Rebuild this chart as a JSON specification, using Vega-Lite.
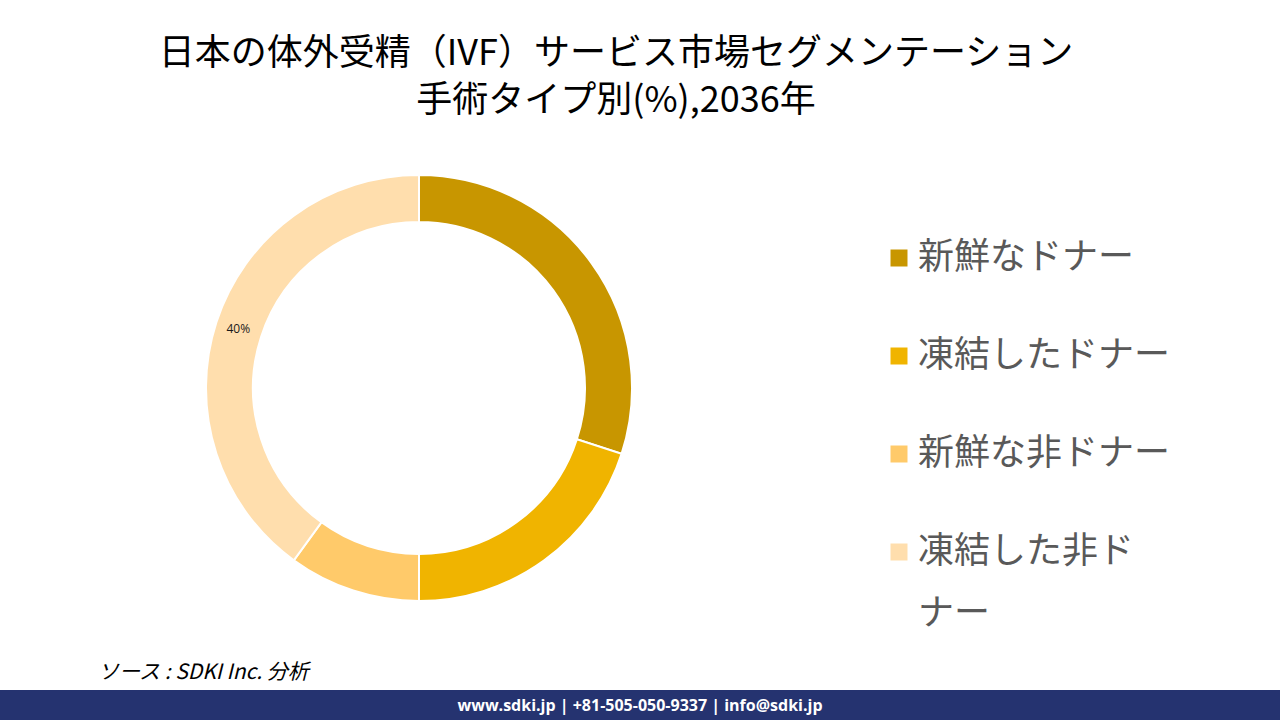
{
  "$schema": "https://vega.github.io/schema/vega-lite/v6.json",
  "padding": {"left": 0, "top": 36, "right": 0, "bottom": 0},
  "background": "white",
  "spacing": 17,
  "config": {
    "view": {"stroke": null},
    "style": {"guide-label": {"lineHeight": 62}}
  },
  "title": {
    "text": ["日本の体外受精（IVF）サービス市場セグメンテーション", "手術タイプ別(%),2036年"],
    "font": "Noto Sans CJK JP",
    "fontSize": 36,
    "fontWeight": "normal",
    "color": "#000000",
    "lineHeight": 47,
    "anchor": "middle",
    "dx": -24,
    "offset": 11
  },
  "vconcat": [
    {
      "width": 838,
      "height": 514,
      "data": {
        "values": [
          {"type": "新鮮なドナー", "share": 0.3},
          {"type": "凍結したドナー", "share": 0.2},
          {"type": "新鮮な非ドナー", "share": 0.1},
          {"type": "凍結した非ドナー", "share": 0.4}
        ]
      },
      "transform": [{"window": [{"op": "row_number", "as": "idx"}]}],
      "layer": [
        {
          "mark": {"type": "arc", "outerRadius": 213, "innerRadius": 166, "stroke": "white", "strokeWidth": 2},
          "encoding": {
            "theta": {"field": "share", "type": "quantitative", "stack": true},
            "order": {"field": "idx", "type": "quantitative"},
            "color": {
              "field": "type",
              "type": "nominal",
              "scale": {
                "domain": ["新鮮なドナー", "凍結したドナー", "新鮮な非ドナー", "凍結した非ドナー"],
                "range": ["#C89600", "#F0B400", "#FFCA6A", "#FFDEAD"]
              },
              "legend": {
                "title": null,
                "orient": "none",
                "legendX": 881,
                "legendY": 109,
                "symbolType": "square",
                "symbolSize": 289,
                "symbolStrokeWidth": 0,
                "labelFont": "Noto Sans CJK JP",
                "labelFontSize": 36,
                "labelColor": "#595959",
                "labelOffset": 1,
                "labelLimit": 400,
                "rowPadding": 62,
                "labelExpr": "datum.label == '凍結した非ドナー' ? ['凍結した非ド', 'ナー'] : datum.label"
              }
            }
          }
        },
        {
          "mark": {"type": "text", "radius": 190, "font": "Open Sans", "fontSize": 12, "color": "#1a1a1a"},
          "encoding": {
            "theta": {"field": "share", "type": "quantitative", "stack": true},
            "order": {"field": "idx", "type": "quantitative"},
            "detail": {"field": "type", "type": "nominal"},
            "text": {
              "condition": {"test": "datum.share >= 0.4", "field": "share", "format": ".0%"},
              "value": ""
            }
          }
        }
      ]
    },
    {
      "width": 1280,
      "height": 32,
      "view": {"fill": "#253370", "stroke": null},
      "title": {
        "text": "ソース : SDKI Inc. 分析",
        "anchor": "start",
        "dx": 98,
        "font": "Noto Sans CJK JP",
        "fontSize": 21,
        "fontStyle": "italic",
        "fontWeight": "normal",
        "color": "#000000",
        "offset": 7
      },
      "data": {"values": [{"t": "www.sdki.jp | +81-505-050-9337 | info@sdki.jp"}]},
      "mark": {"type": "text", "color": "white", "font": "Open Sans", "fontSize": 16, "fontWeight": "bold"},
      "encoding": {"text": {"field": "t", "type": "nominal"}}
    }
  ]
}
